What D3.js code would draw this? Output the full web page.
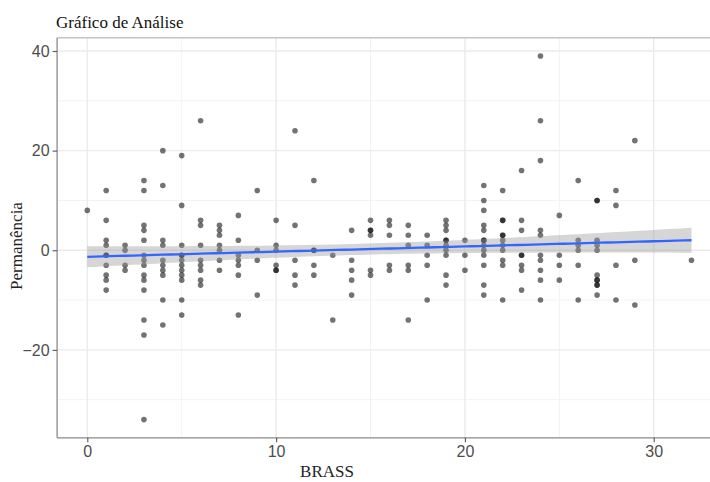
<!DOCTYPE html>
<html>
<head>
<meta charset="utf-8">
<script src="https://cdn.jsdelivr.net/npm/d3@7"></script>
<style>
  body { margin: 0; background: #fff; }
  svg { display: block; }
</style>
</head>
<body>
<div id="chart"></div>
<script>
// BRASS (x) and Permanência (y), one pair per point, grouped by BRASS value
const brass = [
  0,
  1, 1, 1, 1, 1, 1, 1, 1, 1, 1,
  2, 2, 2, 2,
  3, 3, 3, 3, 3, 3, 3, 3, 3, 3, 3, 3, 3, 3,
  4, 4, 4, 4, 4, 4, 4, 4, 4, 4,
  5, 5, 5, 5, 5, 5, 5, 5, 5, 5, 5, 5,
  6, 6, 6, 6, 6, 6, 6, 6, 6,
  7, 7, 7, 7, 7, 7, 7,
  8, 8, 8, 8, 8, 8, 8,
  9, 9, 9, 9,
  10, 10, 10, 10, 10, 10,
  11, 11, 11, 11, 11,
  12, 12, 12, 12, 12,
  13, 13,
  14, 14, 14, 14, 14,
  15, 15, 15, 15, 15, 15,
  16, 16, 16, 16, 16,
  17, 17, 17, 17, 17, 17,
  18, 18, 18, 18, 18,
  19, 19, 19, 19, 19, 19, 19, 19, 19, 19,
  20, 20, 20,
  21, 21, 21, 21, 21, 21, 21, 21, 21, 21, 21, 21, 21,
  22, 22, 22, 22, 22, 22, 22, 22, 22, 22, 22,
  23, 23, 23, 23, 23, 23, 23, 23,
  24, 24, 24, 24, 24, 24, 24, 24, 24, 24,
  25, 25, 25, 25,
  26, 26, 26, 26, 26, 26,
  27, 27, 27, 27, 27, 27, 27, 27, 27, 27, 27,
  28, 28, 28, 28,
  29, 29, 29,
  32
];
const permanencia = [
  8,
  12, 6, 2, 1, -1, -1, -3, -5, -6, -8,
  1, 0, -3, -4,
  14, 12, 5, 4, 2, -1, -2, -3, -5, -6, -8, -14, -17, -34,
  20, 13, 2, 1, -2, -3, -4, -5, -10, -15,
  19, 9, 1, -1, -1, -2, -3, -4, -5, -6, -10, -13,
  26, 6, 5, 1, -2, -3, -4, -6, -7,
  5, 4, 3, 1, 0, -2, -4,
  7, 2, -1, -2, -3, -5, -13,
  12, 0, -2, -9,
  6, 1, 0, -3, -4, -4,
  24, 5, -2, -5, -7,
  14, 0, 0, -3, -5,
  -1, -14,
  4, -2, -4, -6, -9,
  6, 4, 4, 3, -4, -5,
  6, 5, 3, -3, -4,
  5, 3, 1, -3, -4, -14,
  3, 1, -1, -3, -10,
  6, 5, 4, 2, 2, 1, 0, -1, -5, -7,
  2, -1, -4,
  13, 10, 8, 5, 4, 2, 2, 1, 0, -1, -3, -7, -9,
  12, 6, 6, 3, 3, 2, 1, 0, -2, -3, -10,
  16, 6, 4, -1, -1, -3, -4, -8,
  39, 26, 18, 4, 3, -1, -2, -4, -6, -10,
  7, -1, -3, -6,
  14, 2, 1, 0, -3, -10,
  10, 10, 2, 1, 0, -5, -6, -6, -7, -7, -9,
  12, 9, -3, -10,
  22, -2, -11,
  -2
];

const xMajor = [0, 10, 20, 30];
const xMinor = [5, 15, 25];
const yMajor = [-20, 0, 20, 40];
const yMinor = [-30, -10, 10, 30];

const width = 710, height = 482;
const panel = { left: 57.1, right: 721.7, top: 37.8, bottom: 437.8 };

const svg = d3.select("#chart").append("svg")
  .attr("width", width)
  .attr("height", height);

const points = brass.map((b, i) => ({ x: b, y: permanencia[i] }));

const x = d3.scaleLinear().domain([-1.6, 33.6]).range([panel.left, panel.right]);
const y = d3.scaleLinear().domain([-37.65, 42.65]).range([panel.bottom, panel.top]);

// gridlines
const grid = svg.append("g");
grid.selectAll(".xminor").data(xMinor).join("line")
  .attr("x1", d => x(d)).attr("x2", d => x(d))
  .attr("y1", panel.top).attr("y2", panel.bottom)
  .attr("stroke", "#f2f2f2").attr("stroke-width", 1);
grid.selectAll(".yminor").data(yMinor).join("line")
  .attr("y1", d => y(d)).attr("y2", d => y(d))
  .attr("x1", panel.left).attr("x2", panel.right)
  .attr("stroke", "#f2f2f2").attr("stroke-width", 1);
grid.selectAll(".xmajor").data(xMajor).join("line")
  .attr("x1", d => x(d)).attr("x2", d => x(d))
  .attr("y1", panel.top).attr("y2", panel.bottom)
  .attr("stroke", "#ebebeb").attr("stroke-width", 1.4);
grid.selectAll(".ymajor").data(yMajor).join("line")
  .attr("y1", d => y(d)).attr("y2", d => y(d))
  .attr("x1", panel.left).attr("x2", panel.right)
  .attr("stroke", "#ebebeb").attr("stroke-width", 1.4);

// points
svg.append("g")
  .selectAll("circle")
  .data(points)
  .join("circle")
  .attr("cx", d => x(d.x))
  .attr("cy", d => y(d.y))
  .attr("r", 2.8)
  .attr("fill", "#000")
  .attr("fill-opacity", 0.55);

// linear fit with 95% confidence band
const n = points.length;
const mx = d3.mean(points, d => d.x), my = d3.mean(points, d => d.y);
const sxx = d3.sum(points, d => (d.x - mx) ** 2);
const sxy = d3.sum(points, d => (d.x - mx) * (d.y - my));
const slope = sxy / sxx, intercept = my - slope * mx;
const rss = d3.sum(points, d => (d.y - intercept - slope * d.x) ** 2);
const s = Math.sqrt(rss / (n - 2));
const tval = 1.972;
const xs = d3.range(0, 32.01, 0.4);
const band = xs.map(v => {
  const fit = intercept + slope * v;
  const se = s * Math.sqrt(1 / n + (v - mx) ** 2 / sxx);
  return { x: v, fit, lo: fit - tval * se, hi: fit + tval * se };
});

svg.append("path")
  .datum(band)
  .attr("d", d3.area().x(d => x(d.x)).y0(d => y(d.lo)).y1(d => y(d.hi)))
  .attr("fill", "#999").attr("fill-opacity", 0.4);
svg.append("path")
  .datum(band)
  .attr("d", d3.line().x(d => x(d.x)).y(d => y(d.fit)))
  .attr("fill", "none").attr("stroke", "#3366FF").attr("stroke-width", 2.3);

// panel border
svg.append("line").attr("x1", panel.left).attr("x2", panel.right)
  .attr("y1", panel.top).attr("y2", panel.top)
  .attr("stroke", "#c4c4c4").attr("stroke-width", 1.5);
svg.append("line").attr("x1", panel.left).attr("x2", panel.left)
  .attr("y1", panel.top).attr("y2", panel.bottom)
  .attr("stroke", "#8a8a8a").attr("stroke-width", 1.3);
svg.append("line").attr("x1", panel.left).attr("x2", panel.right)
  .attr("y1", panel.bottom).attr("y2", panel.bottom)
  .attr("stroke", "#8a8a8a").attr("stroke-width", 1.3);

// axes
const xAxis = svg.append("g")
  .attr("transform", `translate(0,${panel.bottom})`)
  .call(d3.axisBottom(x).tickValues(xMajor).tickSize(4.5).tickPadding(3));
const yAxis = svg.append("g")
  .attr("transform", `translate(${panel.left},0)`)
  .call(d3.axisLeft(y).tickValues(yMajor).tickSize(4.5).tickPadding(3));
[xAxis, yAxis].forEach(a => {
  a.select(".domain").remove();
  a.selectAll(".tick line").attr("stroke", "#555").attr("stroke-width", 1.1);
  a.selectAll(".tick text")
    .attr("fill", "#4d4d4d")
    .attr("font-family", "Liberation Sans, Arial, sans-serif")
    .attr("font-size", 16);
});

// titles
const serif = "Liberation Serif, Times New Roman, serif";
svg.append("text")
  .attr("x", 56).attr("y", 28)
  .attr("font-family", serif).attr("font-size", 17)
  .attr("fill", "#111")
  .text("Gráfico de Análise");
svg.append("text")
  .attr("x", 327).attr("y", 477)
  .attr("text-anchor", "middle")
  .attr("font-family", serif).attr("font-size", 17)
  .attr("fill", "#222")
  .text("BRASS");
svg.append("text")
  .attr("transform", "translate(22,246) rotate(-90)")
  .attr("text-anchor", "middle")
  .attr("font-family", serif).attr("font-size", 17)
  .attr("fill", "#222")
  .text("Permanência");
</script>
</body>
</html>
